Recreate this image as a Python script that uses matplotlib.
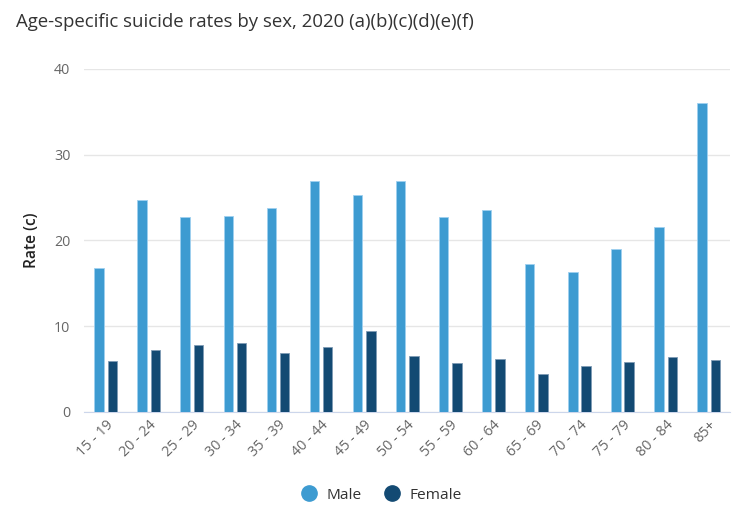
import matplotlib
matplotlib.use("Agg")
import matplotlib.pyplot as plt
import numpy as np
from matplotlib.lines import Line2D

plt.rcParams['font.family'] = ['Open Sans', 'DejaVu Sans']

ages = ["15 - 19", "20 - 24", "25 - 29", "30 - 34", "35 - 39", "40 - 44", "45 - 49",
        "50 - 54", "55 - 59", "60 - 64", "65 - 69", "70 - 74", "75 - 79", "80 - 84", "85+"]
male = [16.8, 24.7, 22.7, 22.9, 23.8, 26.9, 25.3, 26.9, 22.7, 23.5, 17.3, 16.3, 19.0, 21.6, 36.0]
female = [5.9, 7.2, 7.8, 8.0, 6.9, 7.6, 9.4, 6.5, 5.7, 6.2, 4.4, 5.3, 5.8, 6.4, 6.1]

maleColor = "#3d9bd1"
femaleColor = "#134a73"

fig = plt.figure(figsize=(7.52, 5.11), dpi=100)
ax = fig.add_axes([0.112, 0.194, 0.859, 0.671])

x = np.arange(len(ages))
w = 0.22
ax.bar(x - 0.155, male, w, color=maleColor, edgecolor="#9fd0f0", linewidth=0.6, zorder=3)
ax.bar(x + 0.155, female, w, color=femaleColor, edgecolor="#7f9bb5", linewidth=0.6, zorder=3)

ax.set_xlim(-0.5, len(ages) - 0.5)
ax.set_ylim(0, 40)
ax.set_yticks([0, 10, 20, 30, 40])
ax.yaxis.grid(True, color="#e6e6e6", linewidth=1, zorder=0)
ax.set_axisbelow(True)
for s in ["top", "right", "left"]:
    ax.spines[s].set_visible(False)
ax.spines["bottom"].set_color("#ccd6eb")
ax.tick_params(axis="y", length=0, pad=10, labelcolor="#666666", labelsize=10.3)
ax.tick_params(axis="x", length=0, pad=4, labelcolor="#666666", labelsize=10.3)
ax.set_xticks(x)
ax.set_xticklabels(ages, rotation=45, ha="right", rotation_mode="anchor")
ax.set_ylabel("Rate (c)", color="#222222", fontsize=11.2, fontweight="semibold")
ax.yaxis.set_label_coords(-0.068, 0.5)

fig.text(0.021, 0.957, "Age-specific suicide rates by sex, 2020 (a)(b)(c)(d)(e)(f)",
         fontsize=13.4, color="#333333", va="center")

handles = [Line2D([], [], marker="o", linestyle="", markersize=11, color=maleColor),
           Line2D([], [], marker="o", linestyle="", markersize=11, color=femaleColor)]
fig.legend(handles, ["Male", "Female"], loc="center", bbox_to_anchor=(0.502, 0.031),
           ncol=2, frameon=False, fontsize=11.1, handletextpad=0.1, columnspacing=1.0,
           labelcolor="#333333")

fig.savefig("out.png", dpi=100)
